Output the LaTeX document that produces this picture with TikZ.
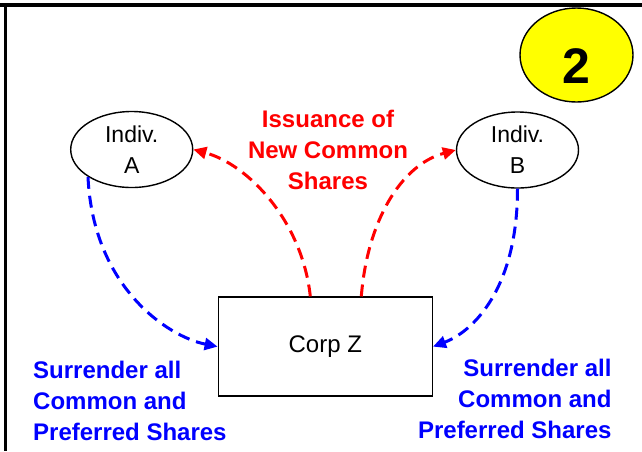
\documentclass[tikz,border=0pt]{standalone}
\usepackage{fontspec}
\setmainfont{Liberation Sans}
\usetikzlibrary{arrows.meta,shapes.geometric,calc}
\definecolor{redc}{RGB}{255,0,0}
\definecolor{bluec}{RGB}{0,0,255}
\definecolor{yellowc}{RGB}{255,255,0}
\begin{document}
\begin{tikzpicture}[x=1pt,y=-1pt,
  indiv/.style={draw,ellipse,line width=1.4pt,minimum width=122pt,minimum height=76pt,inner sep=0pt,align=center,font=\fontsize{23}{31}\selectfont},
  corp/.style={draw,rectangle,line width=1.4pt,minimum width=214pt,minimum height=99pt,inner sep=0pt,font=\fontsize{24}{31}\selectfont},
  badge/.style={draw,ellipse,fill=yellowc,line width=1.4pt,minimum width=113pt,minimum height=94pt,inner sep=0pt,text height=56pt,text depth=0pt,font=\fontsize{50}{50}\selectfont\bfseries},
  redlabel/.style={text=redc,align=center,inner sep=0pt,font=\fontsize{24}{31}\selectfont\bfseries},
  bluelabel/.style={text=bluec,inner sep=0pt,font=\fontsize{24}{31}\selectfont\bfseries},
  redarrow/.style={draw=redc,line width=3pt,dash pattern=on 12pt off 7pt,-{Triangle[length=13pt,width=12pt]}},
  bluearrow/.style={draw=bluec,line width=3pt,dash pattern=on 12pt off 7pt,-{Triangle[length=13pt,width=12pt]}},
  frame/.style={draw=black,line width=4pt}
]
\useasboundingbox (0,0) rectangle (642,451);
% frame
\coordinate (fl) at (0,5);
\coordinate (fr) at (642,5);
\coordinate (ft) at (5.5,3);
\coordinate (fb) at (5.5,451);
\draw[frame] (fl) -- (fr);
\draw[frame,line width=3.5pt] (ft) -- (fb);
% nodes
\node[badge] (two) at (576.5,55) {2};
\node[indiv] (A) at (131.7,149.5) {Indiv.\\A};
\node[indiv] (B) at (517.5,150) {Indiv.\\B};
\node[corp] (Z) at (325.3,346.6) {Corp Z};
\node[redlabel] (iss) at (328,149.5) {Issuance of\\New Common\\Shares};
\node[bluelabel,align=left,anchor=west] (sl) at (33,401) {Surrender all\\Common and\\Preferred Shares};
\node[bluelabel,align=right,anchor=east] (sr) at (611.7,398.5) {Surrender all\\Common and\\Preferred Shares};
% connectors
\draw[bluearrow] (A.212) .. controls +(5,110) and +(-50,-10) .. (Z.west);
\draw[bluearrow] (B.south) .. controls +(0,100) and +(40,-15) .. (Z.east);
\draw[redarrow] ([xshift=-15pt]Z.north) .. controls +(-8,-75) and +(55,15) .. (A.east);
\draw[redarrow] ([xshift=36pt]Z.north) .. controls +(6,-75) and +(-55,15) .. (B.west);
\end{tikzpicture}
\end{document}
